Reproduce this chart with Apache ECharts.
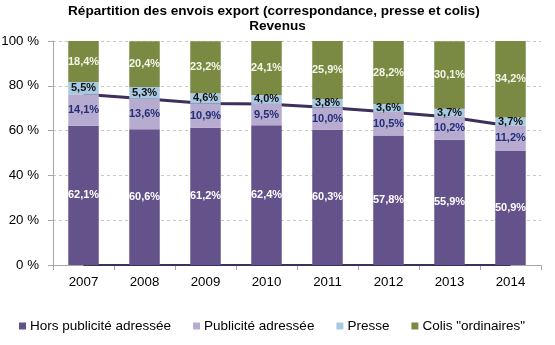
<!DOCTYPE html>
<html><head><meta charset="utf-8">
<script src="https://cdn.jsdelivr.net/npm/echarts@6/dist/echarts.min.js"></script>
<style>html,body{margin:0;padding:0;background:#fff}#c{width:555px;height:345px}</style>
</head><body><div id="c"></div>
<script>
const years = ['2007','2008','2009','2010','2011','2012','2013','2014'];
const horsPub = [62.1, 60.6, 61.2, 62.4, 60.3, 57.8, 55.9, 50.9];
const pubAdr = [14.1, 13.6, 10.9, 9.5, 10.0, 10.5, 10.2, 11.2];
const presse = [5.5, 5.3, 4.6, 4.0, 3.8, 3.6, 3.7, 3.7];
const colis = [18.4, 20.4, 23.2, 24.1, 25.9, 28.2, 30.1, 34.2];
const correspondance = [76.2, 74.2, 72.1, 71.9, 70.3, 68.3, 66.1, 62.1];
const baseLine = [0, 0, 0, 0, 0, 0, 0, 0];
const yTicks = [0, 20, 40, 60, 80, 100];

const fmt = p => p.value.toFixed(1).replace('.', ',') + '%';
const font = 'Liberation Sans, Arial, sans-serif';
function barSeries(name, data, color, labelColor) {
  return {
    name, type: 'bar', stack: 'total', data, barWidth: '50%', z: 3,
    itemStyle: { color },
    label: { show: true, position: 'inside', formatter: fmt, color: labelColor,
      fontSize: 11, fontWeight: 'bold', fontFamily: font }
  };
}
const titleStyle = { fontSize: 13.6, fontWeight: 'bold', fontFamily: font, color: '#000' };
const chart = echarts.init(document.getElementById('c'), null, { renderer: 'canvas' });
chart.setOption({
  animation: false,
  title: [
    { text: 'Répartition des envois export (correspondance, presse et colis)',
      left: 68, top: 4, padding: 0, textStyle: titleStyle },
    { text: 'Revenus', left: 'center', top: 19, padding: 0, textStyle: titleStyle }
  ],
  grid: { left: 53, right: 14, top: 41, bottom: 80, containLabel: false, outerBoundsMode: 'none' },
  legend: {
    data: ['Hors publicité adressée', 'Publicité adressée', 'Presse', 'Colis "ordinaires"'],
    bottom: 7, left: 14, itemWidth: 7, itemHeight: 7, itemGap: 22,
    icon: 'rect',
    textStyle: { fontSize: 13.5, fontFamily: font, color: '#000', padding: [0, 0, 0, -1] }
  },
  xAxis: {
    type: 'category', data: years,
    axisLine: { lineStyle: { color: '#a6a6a6' } },
    axisTick: { show: true, alignWithLabel: false, length: 5, lineStyle: { color: '#a6a6a6' } },
    axisLabel: { fontSize: 13.3, fontFamily: font, color: '#000', margin: 11 }
  },
  yAxis: {
    type: 'value', min: 0, max: 100, interval: 20,
    axisLine: { show: true, lineStyle: { color: '#a6a6a6' } },
    axisTick: { show: true, length: 5, lineStyle: { color: '#a6a6a6' } },
    axisLabel: { fontSize: 13.3, fontFamily: font, color: '#000', margin: 14,
      formatter: v => yTicks.includes(v) ? v + ' %' : '' },
    splitLine: { lineStyle: { color: '#c8c8c8', type: [3, 3] } }
  },
  series: [
    { name: 'Correspondance', type: 'line', data: correspondance, z: 1, symbol: 'none',
      lineStyle: { color: '#3e2f5c', width: 3 } },
    { name: 'Base', type: 'line', data: baseLine, z: 1, symbol: 'none',
      lineStyle: { color: '#3e2f5c', width: 2 } },
    barSeries('Hors publicité adressée', horsPub, '#64528a', '#ffffff'),
    barSeries('Publicité adressée', pubAdr, '#b7abd0', '#1f2f78'),
    barSeries('Presse', presse, '#a8c9e2', '#111111'),
    barSeries('Colis "ordinaires"', colis, '#7a8a43', '#f4f4e8')
  ]
});
</script></body></html>
